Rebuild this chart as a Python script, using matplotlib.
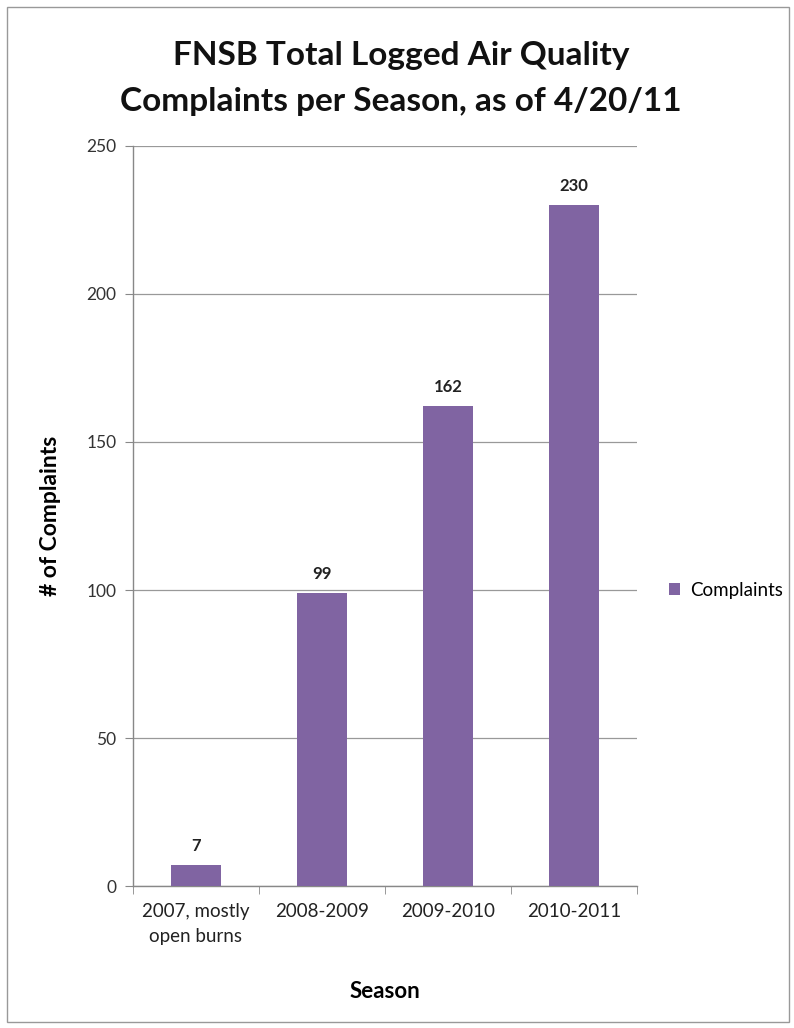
import matplotlib
matplotlib.use("Agg")
import matplotlib.pyplot as plt
from matplotlib.patches import Rectangle

categories = ["2007, mostly\nopen burns", "2008-2009", "2009-2010", "2010-2011"]
complaints = [7, 99, 162, 230]
yticks = [0, 50, 100, 150, 200, 250]
series_name = "Complaints"
title = "FNSB Total Logged Air Quality\nComplaints per Season, as of 4/20/11"

plt.rcParams['font.family'] = ['Lato', 'DejaVu Sans']
color = "#8064A2"

fig = plt.figure(figsize=(7.94, 10.28), dpi=100)
ax = fig.add_axes([0.1675, 0.1381, 0.6348, 0.7199])

x = list(range(len(categories)))
bars = ax.bar(x, complaints, width=0.4, color=color, label=series_name, zorder=3)
for xi, v in zip(x, complaints):
    ax.annotate(str(v), (xi, v), xytext=(0, 8), textcoords="offset points",
                ha="center", va="bottom", fontsize=12, fontweight="bold", color="#222222")

ax.set_xlim(-0.5, len(categories) - 0.5)
ax.set_ylim(0, 250)
ax.set_yticks(yticks)
ax.set_yticklabels([str(t) for t in yticks], fontsize=12.5, color="#333333")
ax.yaxis.grid(True, color="#999999", linewidth=0.9, zorder=0)
ax.set_axisbelow(True)

ax.set_xticks(x)
ax.set_xticklabels(categories, fontsize=13.5, color="#222222", linespacing=1.6)
ax.tick_params(axis="x", length=0, pad=12)
ax.set_xticks([i - 0.5 for i in range(len(categories) + 1)], minor=True)
ax.tick_params(axis="x", which="minor", length=6, color="#888888", direction="out")
ax.tick_params(axis="y", length=6, color="#888888", direction="out", pad=6)

for s in ["top", "right"]:
    ax.spines[s].set_visible(False)
for s in ["left", "bottom"]:
    ax.spines[s].set_color("#888888")
    ax.spines[s].set_linewidth(1.0)

ax.set_ylabel("# of Complaints", fontsize=16.5, fontweight="bold", labelpad=18)
ax.set_xlabel("Season", fontsize=16, fontweight="bold", labelpad=26)

fig.text(0.505, 0.9235, title, ha="center", va="center", fontsize=24,
         fontweight="bold", linespacing=1.7, color="#111111")

leg = ax.legend(loc="center left", bbox_to_anchor=(1.03, 0.4), frameon=False,
                fontsize=13.5, handlelength=0.6, handleheight=0.6, handletextpad=0.5)

fig.patches.append(Rectangle((0.009, 0.006), 0.985, 0.987, transform=fig.transFigure,
                             fill=False, edgecolor="#999999", linewidth=1.0))

fig.savefig("out.png", dpi=100, facecolor="white")
